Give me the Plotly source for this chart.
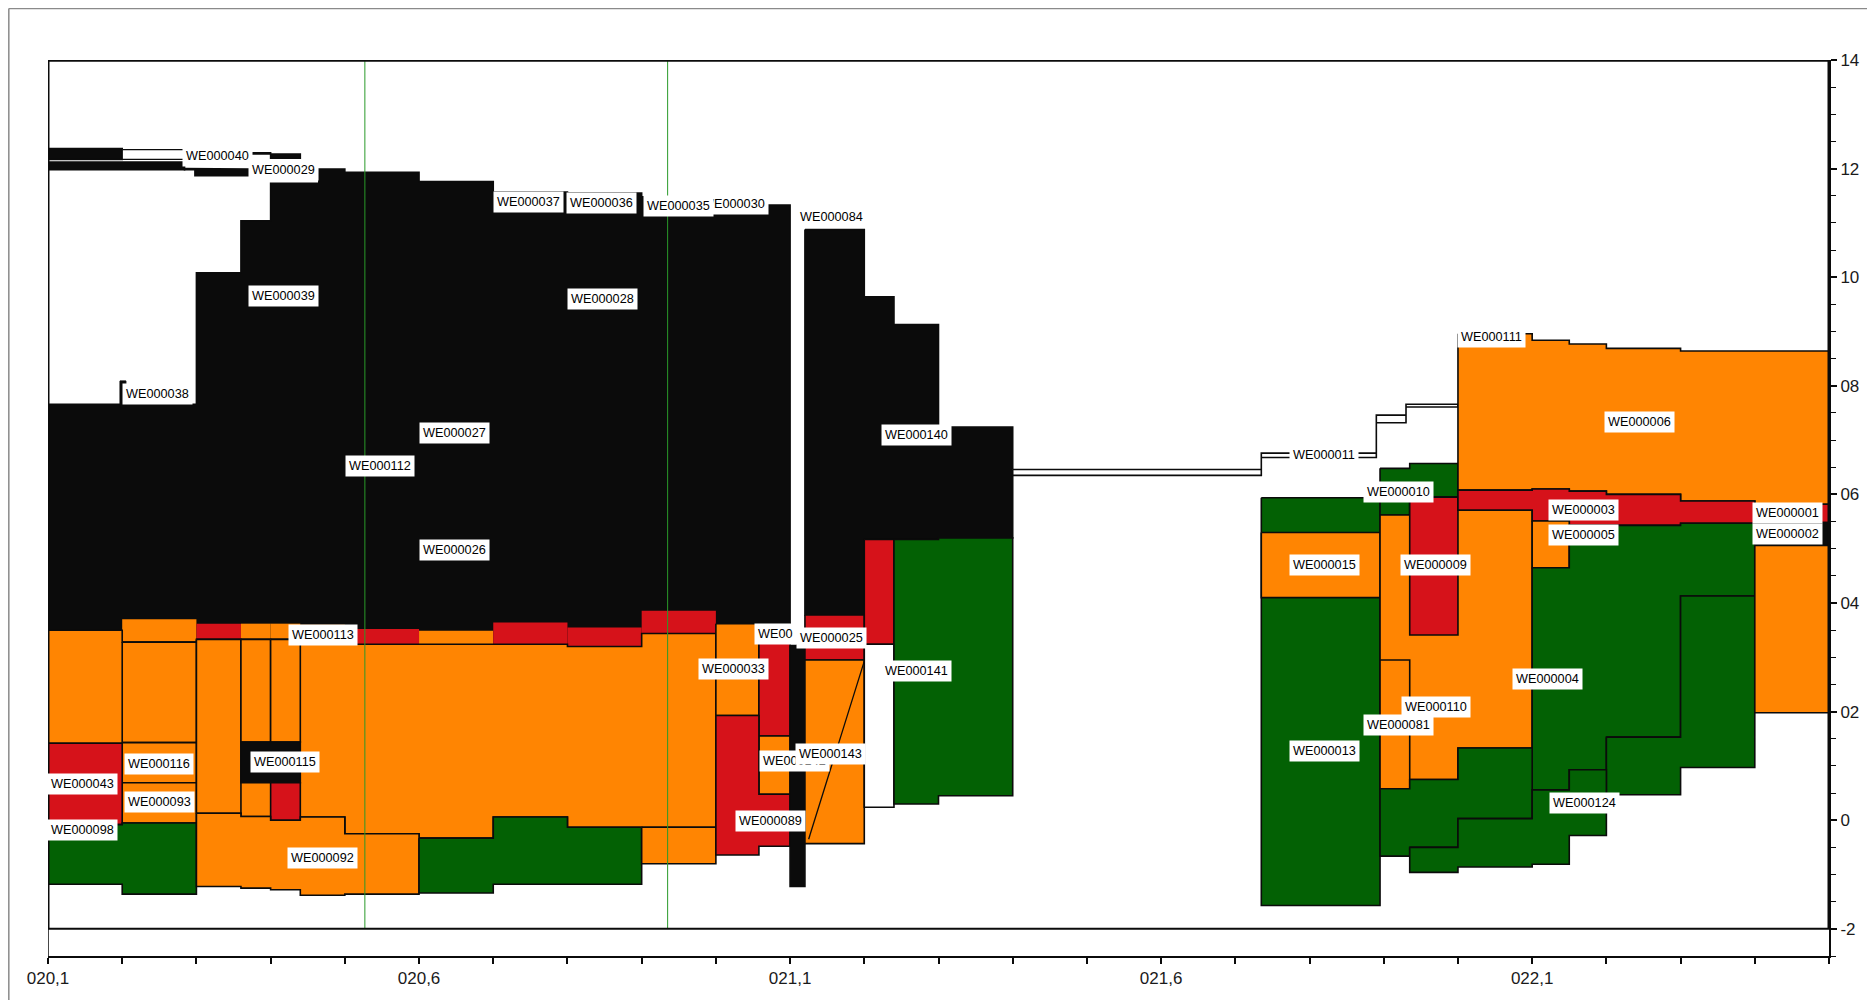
import plotly.graph_objects as go

BLACK = '#0b0b0b'
ORANGE = '#ff8502'
RED = '#d6121a'
GREEN = '#036104'
WHITE = '#ffffff'
COLS = {'K': BLACK, 'O': ORANGE, 'R': RED, 'G': GREEN, 'W': WHITE}

X_RANGE = [20.1, 22.5]
Y_RANGE = [-2.5, 14]
Y_FRAME_BOTTOM = -2
X_TICKVALS = [20.1, 20.6, 21.1, 21.6, 22.1]
X_TICKTEXT = ['020,1', '020,6', '021,1', '021,6', '022,1']
Y_TICKVALS = [-2, 0, 2, 4, 6, 8, 10, 12, 14]
Y_TICKTEXT = ['-2', '0', '02', '04', '06', '08', '10', '12', '14']

# ---- units: x edges, tops per segment, bottoms per segment ----
U_BLACK_X = [20.1, 20.2, 20.3, 20.36, 20.4, 20.465, 20.5, 20.6, 20.7, 20.8, 20.9, 21.0, 21.065, 21.1]
U_BLACK_TOP = [7.66, 7.66, 10.08, 11.04, 11.73, 11.99, 11.93, 11.76, 11.57, 11.55, 11.48, 11.5, 11.33]
U_BLACK_BOT = [3.0, 3.0, 3.0, 3.0, 3.0, 3.0, 3.0, 3.0, 3.0, 3.0, 3.0, 3.0, 3.0]

U084_X = [21.12, 21.2, 21.24, 21.3, 21.4]
U084_TOP = [10.88, 9.64, 9.13, 7.24]
U084_BOT = [3.78, 5.17, 5.17, 5.2]

U040A_X, U040A_TOP, U040A_BOT = [20.1, 20.2], [12.37], [12.17]
U040B_X, U040B_TOP, U040B_BOT = [20.2, 20.284], [12.35], [12.17]
U040C_X, U040C_TOP, U040C_BOT = [20.375, 20.4, 20.44], [12.29, 12.27], [12.27, 12.19]
U029A_X, U029A_TOP, U029A_BOT = [20.1, 20.284], [12.12], [11.98]
U029B_X, U029B_TOP, U029B_BOT = [20.284, 20.298, 20.37], [12.0, 11.99], [11.98, 11.87]
U038_X, U038_TOP, U038_BOT = [20.197, 20.205], [8.09], [7.6]

BAND_X = [20.1, 20.2, 20.3, 20.36, 20.4, 20.44, 20.5, 20.6, 20.7, 20.8, 20.9, 21.0]
BAND_TOP = [3.50, 3.70, 3.62, 3.62, 3.62, 3.60, 3.52, 3.49, 3.64, 3.55, 3.86]
BAND_BOT = [3.50, 3.28, 3.33, 3.33, 3.33, 3.24, 3.24, 3.24, 3.24, 3.20, 3.44]
BAND_COLOR = ['O', 'O', 'R', 'O', 'O', 'O', 'R', 'O', 'R', 'R', 'R']

BODY_BOT = [-0.08, -0.05, 0.13, 0.07, 0.0, 0.06, -0.25, -0.33, 0.06, -0.13, -0.13]

BOXA_X, BOXA_TOP, BOXA_BOT = [20.2, 20.3], [3.28], [1.43]
U116_X, U116_TOP, U116_BOT = [20.2, 20.3], [1.43], [0.69]
U093_X, U093_TOP, U093_BOT = [20.2, 20.3], [0.69], [-0.05]
BOXB_X, BOXB_TOP, BOXB_BOT = [20.3, 20.36], [3.33], [0.13]
BOXC_X, BOXC_TOP, BOXC_BOT = [20.36, 20.4], [3.33], [1.44]
BOXD_X, BOXD_TOP, BOXD_BOT = [20.4, 20.44], [3.33], [1.44]
U115_X, U115_TOP, U115_BOT = [20.36, 20.44], [1.44], [0.69]
BOXE_X, BOXE_TOP, BOXE_BOT = [20.4, 20.44], [0.69], [0.0]
U043_X, U043_TOP, U043_BOT = [20.1, 20.2], [1.42], [-0.08]

U098_X, U098_TOP, U098_BOT = [20.1, 20.2, 20.3], [-0.08, -0.05], [-1.18, -1.36]
U092_X = [20.3, 20.36, 20.4, 20.44, 20.5, 20.6]
U092_TOP = [0.13, 0.07, 0.0, 0.06, -0.25]
U092_BOT = [-1.22, -1.25, -1.28, -1.38, -1.36]
UG2_X, UG2_TOP, UG2_BOT = [20.6, 20.7, 20.8, 20.9], [-0.33, 0.06, -0.13], [-1.34, -1.18, -1.18]
UO2_X, UO2_TOP, UO2_BOT = [20.9, 21.0], [-0.13], [-0.80]

U033_X, U033_TOP, U033_BOT = [21.0, 21.058], [3.62], [1.93]
URD1_X, URD1_TOP, URD1_BOT = [21.058, 21.1], [3.62], [1.55]
U142_X, U142_TOP, U142_BOT = [21.058, 21.1], [1.55], [0.48]
U089_X, U089_TOP, U089_BOT = [21.0, 21.058, 21.1], [1.93, 0.48], [-0.64, -0.48]
UBAR_X, UBAR_TOP, UBAR_BOT = [21.1, 21.12], [3.22], [-1.22]

U025_X, U025_TOP, U025_BOT = [21.12, 21.2], [3.78], [2.95]
U143_X, U143_TOP, U143_BOT = [21.12, 21.2], [2.95], [-0.43]
DIAG_X, DIAG_Y = [21.2, 21.125], [2.93, -0.35]
URD2_X, URD2_TOP, URD2_BOT = [21.2, 21.24], [5.17], [3.24]
UWH_X, UWH_TOP, UWH_BOT = [21.2, 21.24], [3.24], [0.24]
U141_X, U141_TOP, U141_BOT = [21.24, 21.3, 21.4], [5.17, 5.2], [0.30, 0.45]

U011_X = [21.4, 21.735, 21.89, 21.93, 22.0]
U011_TOP = [6.46, 6.76, 7.46, 7.66]
U011_BOT = [6.35, 6.68, 7.32, 7.61]

U013_X, U013_TOP, U013_BOT = [21.735, 21.895], [5.94], [-1.57]
U015_X, U015_TOP, U015_BOT = [21.735, 21.895], [5.30], [4.10]
U010_X, U010_TOP, U010_BOT = [21.895, 21.935, 22.0], [6.48, 6.57], [5.62, 5.95]
U004_X, U004_TOP, U004_BOT = [21.895, 21.935, 22.0, 22.1], [5.62, 5.95, 5.71], [0.58, 0.75, 1.33]
U009_X, U009_TOP, U009_BOT = [21.935, 22.0], [5.95], [3.41]
U081_X, U081_TOP, U081_BOT = [21.895, 21.935], [2.95], [0.58]
U006_X = [22.0, 22.1, 22.15, 22.2, 22.3, 22.4, 22.5]
U006_TOP = [8.96, 8.84, 8.77, 8.69, 8.64, 8.64]
U006_BOT = [6.08, 6.10, 6.06, 6.0, 5.88, 5.82]
U003_X = [22.0, 22.1, 22.15, 22.2, 22.3, 22.4]
U003_TOP = [6.08, 6.10, 6.06, 6.0, 5.88]
U003_BOT = [5.71, 5.51, 5.43, 5.43, 5.47]
U005_X, U005_TOP, U005_BOT = [22.1, 22.15], [5.51], [4.65]
UGX_X, UGX_TOP, UGX_BOT = [22.1, 22.15, 22.2, 22.3, 22.4], [4.65, 5.43, 5.43, 5.47], [0.56, 0.93, 1.53, 4.13]
UGY_X, UGY_TOP, UGY_BOT = [22.2, 22.3, 22.4], [1.53, 4.13], [0.47, 0.97]
UGB_X, UGB_TOP, UGB_BOT = [21.895, 21.935, 22.0, 22.1], [0.58, 0.75, 1.33], [-0.66, -0.50, 0.03]
U124_X = [21.935, 22.0, 22.1, 22.15, 22.2]
U124_TOP = [-0.50, 0.03, 0.56, 0.93]
U124_BOT = [-0.96, -0.86, -0.81, -0.28]
U001_X, U001_TOP, U001_BOT = [22.4, 22.5], [5.82], [5.48]
U002_X, U002_TOP, U002_BOT = [22.4, 22.5], [5.48], [5.06]
UO3_X, UO3_TOP, UO3_BOT = [22.4, 22.5], [5.06], [1.98]

GREEN_LINE_X = [20.527, 20.935]

LABEL_TEXT = ['WE000040', 'WE000029', 'WE000038', 'WE000039', 'WE000028', 'WE000027',
              'WE000112', 'WE000026', 'WE000037', 'WE000036', 'WE000030', 'WE000035',
              'WE000084', 'WE000140', 'WE000113', 'WE000116', 'WE000093', 'WE000043',
              'WE000098', 'WE000115', 'WE000092', 'WE000033', 'WE00', 'WE000025',
              'WE000141', 'WE000142', 'WE000143', 'WE000089', 'WE000011', 'WE000111',
              'WE000006', 'WE000010', 'WE000003', 'WE000005', 'WE000001', 'WE000002',
              'WE000015', 'WE000009', 'WE000004', 'WE000110', 'WE000081', 'WE000013',
              'WE000124']
LABEL_X = [20.329, 20.418, 20.248, 20.418, 20.847, 20.648,
           20.548, 20.648, 20.747, 20.846, 21.024, 20.950,
           21.156, 21.270, 20.470, 20.250, 20.250, 20.147,
           20.147, 20.419, 20.470, 21.024, 21.080, 21.156,
           21.270, 21.106, 21.155, 21.073, 21.819, 22.045,
           22.244, 21.920, 22.169, 22.169, 22.444, 22.444,
           21.820, 21.970, 22.120, 21.970, 21.920, 21.820,
           22.170]
LABEL_Y = [12.23, 11.98, 7.85, 9.65, 9.60, 7.14,
           6.53, 4.97, 11.39, 11.36, 11.35, 11.31,
           11.10, 7.10, 3.42, 1.03, 0.33, 0.66,
           -0.18, 1.08, -0.69, 2.78, 3.43, 3.36,
           2.75, 1.09, 1.22, -0.01, 6.73, 8.89,
           7.33, 6.04, 5.71, 5.26, 5.65, 5.27,
           4.70, 4.70, 2.60, 2.09, 1.76, 1.27,
           0.32]


def step_poly(xe, top, bot):
    xs, ys = [], []
    for i in range(len(top)):
        xs += [xe[i], xe[i + 1]]
        ys += [top[i], top[i]]
    for i in reversed(range(len(bot))):
        xs += [xe[i + 1], xe[i]]
        ys += [bot[i], bot[i]]
    xs.append(xs[0])
    ys.append(ys[0])
    return xs, ys


fig = go.Figure()


def add_unit(xe, top, bot, col, lw=1.6):
    xs, ys = step_poly(xe, top, bot)
    fig.add_trace(go.Scatter(x=xs, y=ys, mode='lines', fill='toself',
                             fillcolor=COLS[col],
                             line=dict(color=BLACK, width=lw),
                             hoverinfo='skip', showlegend=False))


add_unit(U_BLACK_X, U_BLACK_TOP, U_BLACK_BOT, 'K')
add_unit(U084_X, U084_TOP, U084_BOT, 'K')
add_unit(U040A_X, U040A_TOP, U040A_BOT, 'K')
add_unit(U040B_X, U040B_TOP, U040B_BOT, 'W', 1.3)
add_unit(U040C_X, U040C_TOP, U040C_BOT, 'K')
add_unit(U029A_X, U029A_TOP, U029A_BOT, 'K')
add_unit(U029B_X, U029B_TOP, U029B_BOT, 'K')
add_unit(U038_X, U038_TOP, U038_BOT, 'K', 1)

# coloured band under the black body
for i, c in enumerate(BAND_COLOR):
    add_unit(BAND_X[i:i + 2], [BAND_TOP[i]], [BAND_BOT[i]], c, 0)

add_unit(BAND_X, BAND_BOT, BODY_BOT, 'O')
for xe, t, b, c in [(BOXA_X, BOXA_TOP, BOXA_BOT, 'O'), (U116_X, U116_TOP, U116_BOT, 'O'),
                    (U093_X, U093_TOP, U093_BOT, 'O'), (BOXB_X, BOXB_TOP, BOXB_BOT, 'O'),
                    (BOXC_X, BOXC_TOP, BOXC_BOT, 'O'), (BOXD_X, BOXD_TOP, BOXD_BOT, 'O'),
                    (U115_X, U115_TOP, U115_BOT, 'K'), (BOXE_X, BOXE_TOP, BOXE_BOT, 'R'),
                    (U043_X, U043_TOP, U043_BOT, 'R'),
                    (U098_X, U098_TOP, U098_BOT, 'G'), (U092_X, U092_TOP, U092_BOT, 'O'),
                    (UG2_X, UG2_TOP, UG2_BOT, 'G'), (UO2_X, UO2_TOP, UO2_BOT, 'O'),
                    (U033_X, U033_TOP, U033_BOT, 'O'), (URD1_X, URD1_TOP, URD1_BOT, 'R'),
                    (U142_X, U142_TOP, U142_BOT, 'O'), (U089_X, U089_TOP, U089_BOT, 'R'),
                    (UBAR_X, UBAR_TOP, UBAR_BOT, 'K'),
                    (U025_X, U025_TOP, U025_BOT, 'R'), (U143_X, U143_TOP, U143_BOT, 'O'),
                    (URD2_X, URD2_TOP, URD2_BOT, 'R'), (UWH_X, UWH_TOP, UWH_BOT, 'W'),
                    (U141_X, U141_TOP, U141_BOT, 'G'),
                    (U011_X, U011_TOP, U011_BOT, 'W'),
                    (U013_X, U013_TOP, U013_BOT, 'G'), (U015_X, U015_TOP, U015_BOT, 'O'),
                    (U010_X, U010_TOP, U010_BOT, 'G'), (U004_X, U004_TOP, U004_BOT, 'O'),
                    (U009_X, U009_TOP, U009_BOT, 'R'), (U081_X, U081_TOP, U081_BOT, 'O'),
                    (U006_X, U006_TOP, U006_BOT, 'O'), (U003_X, U003_TOP, U003_BOT, 'R'),
                    (U005_X, U005_TOP, U005_BOT, 'O'), (UGX_X, UGX_TOP, UGX_BOT, 'G'),
                    (UGY_X, UGY_TOP, UGY_BOT, 'G'), (UGB_X, UGB_TOP, UGB_BOT, 'G'),
                    (U124_X, U124_TOP, U124_BOT, 'G'), (U001_X, U001_TOP, U001_BOT, 'R'),
                    (U002_X, U002_TOP, U002_BOT, 'K'), (UO3_X, UO3_TOP, UO3_BOT, 'O')]:
    add_unit(xe, t, b, c)

fig.add_trace(go.Scatter(x=DIAG_X, y=DIAG_Y, mode='lines', line=dict(color=BLACK, width=1.3),
                         hoverinfo='skip', showlegend=False))

for gx in GREEN_LINE_X:
    fig.add_trace(go.Scatter(x=[gx, gx], y=[Y_FRAME_BOTTOM, Y_RANGE[1]], mode='lines',
                             line=dict(color='#2a9a2a', width=1), hoverinfo='skip',
                             showlegend=False))

# frame
frame = [([X_RANGE[0], X_RANGE[1]], [Y_RANGE[1], Y_RANGE[1]], 3.5),
         ([X_RANGE[0], X_RANGE[0]], [Y_FRAME_BOTTOM, Y_RANGE[1]], 3),
         ([X_RANGE[1], X_RANGE[1]], [Y_FRAME_BOTTOM, Y_RANGE[1]], 3),
         ([X_RANGE[0], X_RANGE[1]], [Y_FRAME_BOTTOM, Y_FRAME_BOTTOM], 2),
         ([X_RANGE[0], X_RANGE[0]], [Y_RANGE[0], Y_FRAME_BOTTOM], 1.5)]
for fx, fy, w in frame:
    fig.add_trace(go.Scatter(x=fx, y=fy, mode='lines', line=dict(color=BLACK, width=w),
                             cliponaxis=False, hoverinfo='skip', showlegend=False))

for t, x, y in zip(LABEL_TEXT, LABEL_X, LABEL_Y):
    fig.add_annotation(x=x, y=y, xref='x', yref='y', text=t, showarrow=False,
                       font=dict(family='Liberation Sans, Arial, sans-serif', size=12.7, color='#000'),
                       bgcolor='white', borderpad=3, xanchor='center', yanchor='middle')

tickfont = dict(family='Liberation Sans, Arial, sans-serif', size=17, color='#1a1a1a')
fig.update_layout(
    width=1875, height=1000,
    margin=dict(l=40, r=54, t=52, b=52),
    paper_bgcolor='white', plot_bgcolor='white',
    showlegend=False,
    xaxis=dict(range=X_RANGE, tickvals=X_TICKVALS, ticktext=X_TICKTEXT,
               showgrid=False, zeroline=False, showline=True, linecolor=BLACK, linewidth=2,
               ticks='outside', ticklen=6, tickwidth=1.5, tickcolor=BLACK,
               ticklabelstandoff=0, tickfont=tickfont,
               minor=dict(tick0=20.1, dtick=0.1, ticks='outside', ticklen=6,
                          tickwidth=1.5, tickcolor=BLACK)),
    yaxis=dict(range=Y_RANGE, side='right', tickvals=Y_TICKVALS, ticktext=Y_TICKTEXT,
               showgrid=False, zeroline=False, showline=True, linecolor=BLACK, linewidth=2,
               ticks='outside', ticklen=6, tickwidth=1.5, tickcolor=BLACK, tickfont=tickfont,
               minor=dict(tick0=-2, dtick=0.5, ticks='outside', ticklen=5,
                          tickwidth=1.2, tickcolor=BLACK)),
    shapes=[dict(type='line', xref='paper', yref='paper', x0=-0.022, x1=1.03, y0=1.0575, y1=1.0575,
                 line=dict(color='#8a8a8a', width=1.5)),
            dict(type='line', xref='paper', yref='paper', x0=-0.022, x1=-0.022, y0=-0.06, y1=1.0575,
                 line=dict(color='#8a8a8a', width=1.5))]
)

fig.write_html('out.html')
